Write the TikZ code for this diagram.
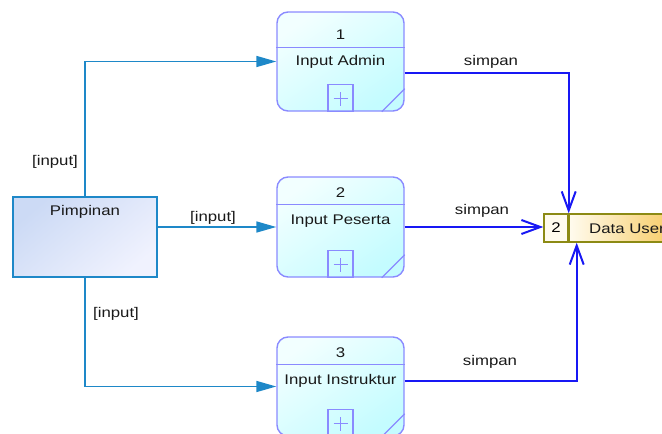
\documentclass[tikz,border=0pt]{standalone}
\usepackage{fontspec}
\setmainfont{Liberation Sans}[FakeStretch=1.2]
\usetikzlibrary{arrows.meta}
\definecolor{entline}{HTML}{1E88C8}
\definecolor{entfillA}{HTML}{CCDAF5}
\definecolor{entfillB}{HTML}{F0F2FE}
\definecolor{procline}{HTML}{8A8AFF}
\definecolor{procfillA}{HTML}{F2FFFF}
\definecolor{procfillB}{HTML}{C4FCFF}
\definecolor{flowblue}{HTML}{1818F4}
\definecolor{storeline}{HTML}{8C8A14}
\definecolor{storefillA}{HTML}{FFFBEE}
\definecolor{storefillB}{HTML}{F6C85A}

\begin{document}
\begin{tikzpicture}[x=1pt,y=-1pt,
  font=\fontsize{14}{16}\selectfont,
  lbl/.style={inner sep=0pt,text=black!90},
  proc/.style={draw=procline,line width=1.4pt,rounded corners=11pt,
    top color=procfillA,bottom color=procfillB,shading angle=35,
    minimum width=127pt,inner sep=0pt},
  ent/.style={draw=entline,line width=1.4pt,top color=entfillA,bottom color=entfillB,
    shading angle=40,minimum width=144pt,minimum height=80pt,inner sep=0pt},
  storeid/.style={draw=storeline,line width=1.4pt,fill=storefillA,
    minimum width=24pt,minimum height=28pt,inner sep=0pt},
  storename/.style={draw=storeline,line width=1.4pt,left color=storefillA,right color=storefillB,
    minimum width=112pt,minimum height=28pt,inner sep=0pt},
  detail/.style={draw=procline,line width=1.2pt},
  inflow/.style={draw=entline,line width=1.5pt,-{Triangle[length=20pt,width=11pt]}},
  outflow/.style={draw=flowblue,line width=2pt,-{Straight Barb[length=19pt,width=14pt]}}]
  \clip (0,0) rectangle (662,434);

  \node[ent] (pim) at (85,237) {};
  \node[lbl] (pimtxt) at (85,212) {Pimpinan};

  \node[proc,minimum height=99pt] (p1) at (340.5,61.5) {};
  \node[proc,minimum height=100pt] (p2) at (340.5,227) {};
  \node[proc,minimum height=99pt] (p3) at (340.5,386.5) {};

  \draw[detail] ([yshift=-36pt]p1.north west) -- ([yshift=-36pt]p1.north east);
  \draw[detail] ([xshift=-12.5pt]p1.south) rectangle ([xshift=12.5pt,yshift=27pt]p1.south);
  \draw[detail,line width=0.9pt] ([xshift=-7pt,yshift=13pt]p1.south) -- ([xshift=7pt,yshift=13pt]p1.south)
    ([yshift=6pt]p1.south) -- ([yshift=20pt]p1.south);
  \draw[detail] ([xshift=-23pt]p1.south east) -- ([yshift=23pt]p1.south east);

  \draw[detail] ([yshift=-28pt]p2.north west) -- ([yshift=-28pt]p2.north east);
  \draw[detail] ([xshift=-12.5pt]p2.south) rectangle ([xshift=12.5pt,yshift=27pt]p2.south);
  \draw[detail,line width=0.9pt] ([xshift=-7pt,yshift=13pt]p2.south) -- ([xshift=7pt,yshift=13pt]p2.south)
    ([yshift=6pt]p2.south) -- ([yshift=20pt]p2.south);
  \draw[detail] ([xshift=-23pt]p2.south east) -- ([yshift=23pt]p2.south east);

  \draw[detail] ([yshift=-28pt]p3.north west) -- ([yshift=-28pt]p3.north east);
  \draw[detail] ([xshift=-12.5pt]p3.south) rectangle ([xshift=12.5pt,yshift=27pt]p3.south);
  \draw[detail,line width=0.9pt] ([xshift=-7pt,yshift=13pt]p3.south) -- ([xshift=7pt,yshift=13pt]p3.south)
    ([yshift=6pt]p3.south) -- ([yshift=20pt]p3.south);
  \draw[detail] ([xshift=-23pt]p3.south east) -- ([yshift=23pt]p3.south east);

  \node[lbl] (p1num) at (340.5,35) {1};
  \node[lbl] (p1txt) at (340.5,62) {Input Admin};
  \node[lbl] (p2num) at (340.5,193) {2};
  \node[lbl] (p2txt) at (340.5,221) {Input Peserta};
  \node[lbl] (p3num) at (340.5,353) {3};
  \node[lbl] (p3txt) at (340.5,381) {Input Instruktur};

  \node[storeid] (sid) at (556,228) {2};
  \node[storename,anchor=west] (sname) at (sid.east) {};
  \node[lbl,anchor=west] (snametxt) at (589,229) {Data User};

  \draw[inflow] (pim.north) |- (p1.west);
  \draw[inflow] (pim.east |- p2.west) -- (p2.west);
  \draw[inflow] (pim.south) |- (p3.west);
  \node[lbl] (in1) at (55,162) {[input]};
  \node[lbl] (in2) at (213,218) {[input]};
  \node[lbl] (in3) at (116,314) {[input]};

  \draw[outflow] ([yshift=-11.5pt]p1.east) -| (sid.north east);
  \draw[outflow] (p2.east) -- (p2.east -| sid.west);
  \draw[outflow] ([yshift=5.5pt]p3.east) -| ([xshift=8pt]sname.south west);
  \node[lbl] (out1) at (491,62) {simpan};
  \node[lbl] (out2) at (482,211) {simpan};
  \node[lbl] (out3) at (490,362) {simpan};
\end{tikzpicture}
\end{document}
